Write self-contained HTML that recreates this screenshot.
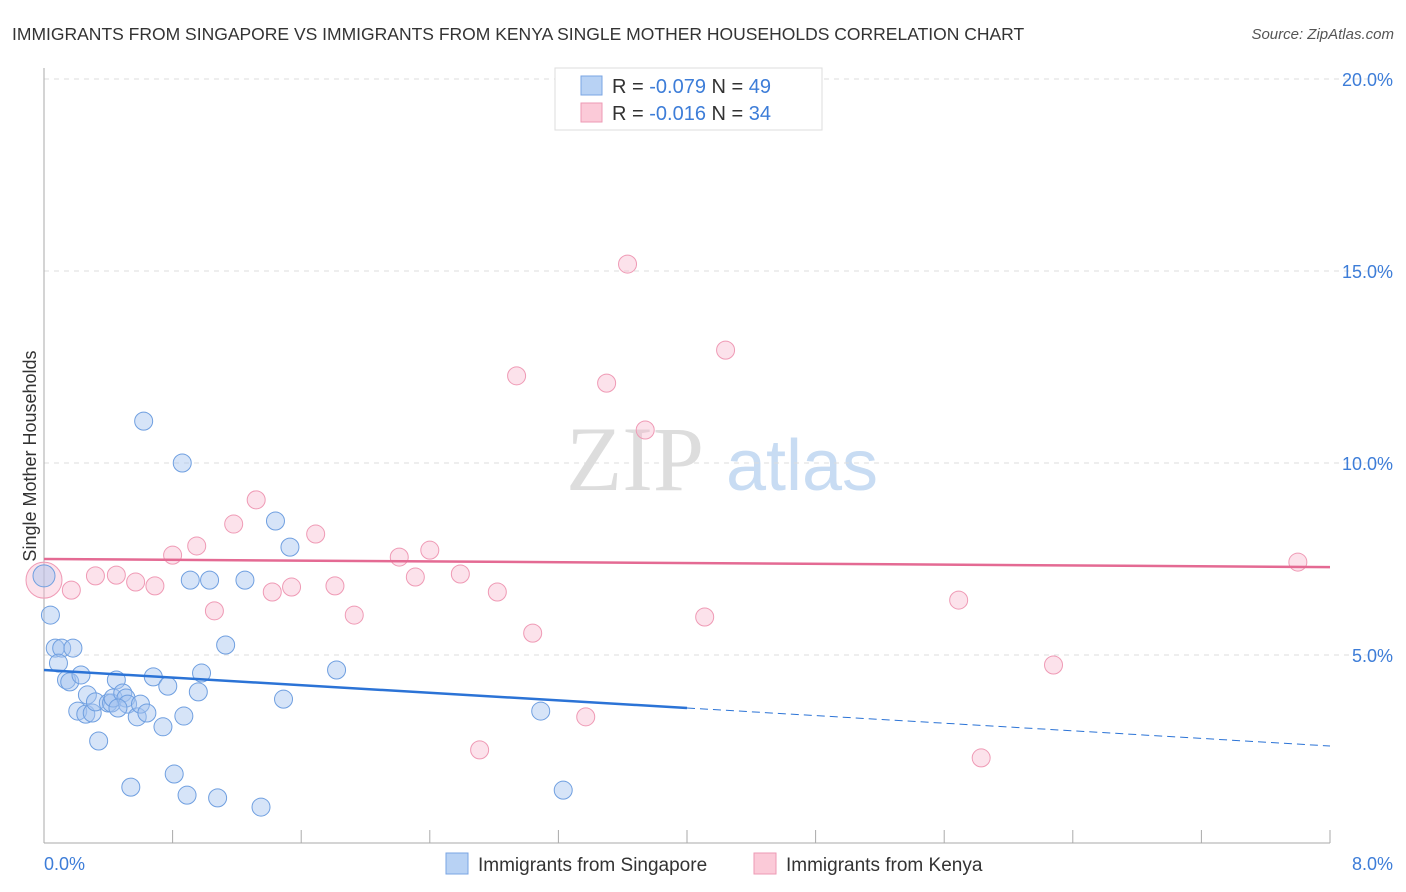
<!DOCTYPE html>
<html><head><meta charset="utf-8"><style>
body{margin:0;background:#fff;font-family:"Liberation Sans",Arial,sans-serif}
svg{display:block}
</style></head><body>
<svg width="1406" height="892" xmlns="http://www.w3.org/2000/svg">
<text x="12" y="40" font-size="17.5" fill="#333">IMMIGRANTS FROM SINGAPORE VS IMMIGRANTS FROM KENYA SINGLE MOTHER HOUSEHOLDS CORRELATION CHART</text>
<text x="1394" y="39" font-size="15" fill="#555" font-style="italic" text-anchor="end">Source: ZipAtlas.com</text>
<g>
<text x="635" y="490" font-size="92" fill="#ddd" font-family="Liberation Serif,serif" text-anchor="middle">ZIP</text>
<text x="802" y="490" font-size="72" fill="#c8dcf3" text-anchor="middle">atlas</text>
</g>
<g id="grid"></g>
<g id="axes"></g>
<g id="marks"></g>
<text x="36" y="456" font-size="18" fill="#333" transform="rotate(-90 36 456)" text-anchor="middle">Single Mother Households</text>
<text x="44" y="870" font-size="18" fill="#3d7dd8">0.0%</text>
<text x="1393" y="870" font-size="18" fill="#3d7dd8" text-anchor="end">8.0%</text>
<g>
<rect x="555" y="68" width="267" height="62" fill="#fff" stroke="#ddd"/>
<rect x="581" y="76" width="21" height="19" fill="#b8d2f4" stroke="#7aa5e3"/>
<text x="612" y="93" font-size="20" fill="#333">R = <tspan fill="#3d7dd8">-0.079</tspan>   N = <tspan fill="#3d7dd8">49</tspan></text>
<rect x="581" y="103" width="21" height="19" fill="#fbcad8" stroke="#ee9ab4"/>
<text x="612" y="120" font-size="20" fill="#333">R =  <tspan fill="#3d7dd8">-0.016</tspan>   N = <tspan fill="#3d7dd8">34</tspan></text>
</g>
<g>
<rect x="446" y="853" width="22" height="21" fill="#b8d2f4" stroke="#7aa5e3"/>
<text x="478" y="871" font-size="19" fill="#333">Immigrants from Singapore</text>
<rect x="754" y="853" width="22" height="21" fill="#fbcad8" stroke="#ee9ab4"/>
<text x="786" y="871" font-size="19" fill="#333">Immigrants from Kenya</text>
</g>
</svg>
<script>
const yTicks=[5,10,15,20];
const yTickLabels=["5.0%","10.0%","15.0%","20.0%"];
const xTicks=[0,0.8,1.6,2.4,3.2,4.0,4.8,5.6,6.4,7.2,8.0];
const blueX=[0.00,0.04,0.07,0.11,0.18,0.09,0.14,0.16,0.23,0.27,0.21,0.26,0.30,0.32,0.40,0.42,0.43,0.45,0.49,0.51,0.52,0.58,0.60,0.64,0.68,0.74,0.77,0.81,0.87,0.89,0.96,0.98,1.08,1.13,0.54,0.34,0.62,0.86,0.91,1.03,1.25,1.44,1.53,1.35,1.49,1.82,3.09,3.23,0.46];
const blueY=[7.06,6.04,5.18,5.18,5.18,4.79,4.35,4.30,4.48,3.96,3.54,3.46,3.49,3.78,3.75,3.75,3.88,4.35,4.01,3.88,3.72,3.39,3.72,3.49,4.43,3.13,4.19,1.90,3.41,1.35,4.04,4.53,1.28,5.26,1.56,2.76,11.09,10.00,6.95,6.95,6.95,8.49,7.81,1.04,3.85,4.61,3.54,1.48,3.62];
const pinkX=[0.00,0.17,0.32,0.45,0.57,0.69,0.80,0.95,1.06,1.18,1.32,1.42,1.54,1.69,1.81,1.93,2.21,2.31,2.40,2.59,2.71,2.82,2.94,3.04,3.37,3.50,3.63,3.74,4.11,4.24,5.69,5.83,6.28,7.80];
const pinkY=[6.95,6.69,7.06,7.08,6.90,6.80,7.60,7.84,6.15,8.41,9.04,6.64,6.77,8.15,6.80,6.04,7.55,7.03,7.73,7.11,2.53,6.64,12.27,5.57,3.39,12.08,15.18,10.86,5.99,12.94,6.43,2.32,4.74,7.42];
const blueTrend=[4.61,2.63];
const pinkTrend=[7.50,7.29];
const blueSolidEnd=4.0;

const NS="http://www.w3.org/2000/svg";
const X0=44,X1=1330,Y0=847,PXY=38.4;
function sx(v){return X0+v*(X1-X0)/8;}
function sy(v){return Y0-v*PXY;}
function mk(t,a,p){const e=document.createElementNS(NS,t);for(const k in a)e.setAttribute(k,a[k]);p.appendChild(e);return e;}
const grid=document.getElementById('grid'),axes=document.getElementById('axes'),marks=document.getElementById('marks');
yTicks.forEach((v,i)=>{
  const l=mk('line',{x1:X0,x2:1393,y1:sy(v),y2:sy(v),stroke:'#ddd','stroke-dasharray':'5,5'},grid);
  
  
  const t=mk('text',{x:1393,y:sy(v)+7,'font-size':18,fill:'#3d7dd8','text-anchor':'end'},grid);
  t.textContent=yTickLabels[i];
  
  
});
const ya=mk('line',{x1:X0,x2:X0,y1:68,y2:843,stroke:'#aaa'},axes);


const xa=mk('line',{x1:X0,x2:X1,y1:843,y2:843,stroke:'#aaa'},axes);


xTicks.forEach(v=>{
  const t=mk('line',{x1:sx(v),x2:sx(v),y1:830,y2:843,stroke:'#aaa'},axes);
  
  
});
function dot(x,y,r,fill,stroke,name){
  const c=mk('circle',{cx:sx(x),cy:sy(y),r:r,fill:fill,stroke:stroke,'stroke-width':1},marks);
  
  
}
pinkX.forEach((x,i)=>dot(x,pinkY[i],i===0?18:9,'rgba(248,182,204,0.4)','#ef9ab5','point-kenya'));
blueX.forEach((x,i)=>dot(x,blueY[i],i===0?11:9,'rgba(164,196,240,0.45)','#6f9fe0','point-singapore'));
function ty(tr,x){return tr[0]+(tr[1]-tr[0])*x/8;}
const b1=mk('line',{x1:sx(0),y1:sy(ty(blueTrend,0)),x2:sx(blueSolidEnd),y2:sy(ty(blueTrend,blueSolidEnd)),stroke:'#2b73d6','stroke-width':2.5},marks);


const b2=mk('line',{x1:sx(blueSolidEnd),y1:sy(ty(blueTrend,blueSolidEnd)),x2:sx(8),y2:sy(ty(blueTrend,8)),stroke:'#2b73d6','stroke-width':1,'stroke-dasharray':'8,5'},marks);


const p1=mk('line',{x1:sx(0),y1:sy(pinkTrend[0]),x2:sx(8),y2:sy(pinkTrend[1]),stroke:'#e46a93','stroke-width':2.5},marks);


</script>
</body></html>
